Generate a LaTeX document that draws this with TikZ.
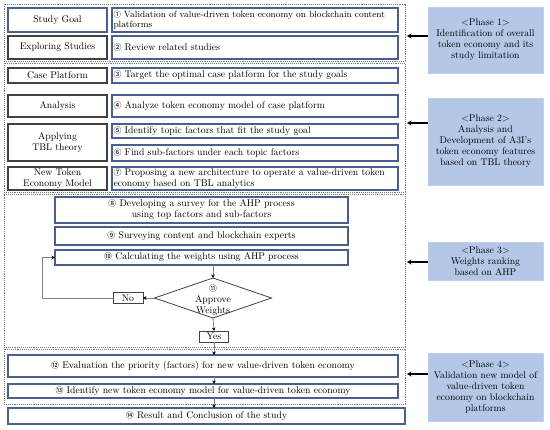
\documentclass[tikz,border=0pt]{standalone}
\usepackage{fontspec}
\usetikzlibrary{arrows.meta,shapes.geometric}
\newfontfamily\cfont{Noto Sans CJK SC}
\newcommand\cn[1]{{\cfont\scalebox{0.82}{#1}}}
\newcommand\nohyph{\hyphenpenalty=10000\relax\exhyphenpenalty=10000\relax}
\definecolor{tbd}{RGB}{75,95,140}
\definecolor{lbd}{RGB}{65,65,65}
\definecolor{phf}{RGB}{180,199,231}
\definecolor{grp}{RGB}{120,120,120}
\begin{document}
\begin{tikzpicture}[x=1pt,y=-1pt,
  every node/.style={font=\fontsize{9.7}{11}\selectfont, inner sep=0pt, outer sep=0pt},
  lbox/.style={draw=lbd, line width=1.1pt, minimum width=99pt, align=center},
  tbox/.style={draw=tbd, line width=1.1pt, minimum width=286pt, text width=283pt, inner xsep=1.5pt, align=left,
    font=\fontsize{9.7}{11}\selectfont\nohyph},
  cbox/.style={draw=tbd, line width=1.1pt, align=center},
  grpbox/.style={draw=grp, densely dotted, line width=0.9pt},
  phase/.style={fill=phf, draw=phf!85!white, minimum width=115pt, text width=110pt, align=center},
  parr/.style={line width=1.5pt, -{Stealth[length=4.5pt,width=5pt]}},
  farr/.style={draw=gray, line width=0.8pt, -{Stealth[length=3.5pt,width=3.5pt,black]}},
  smallbox/.style={draw=lbd, line width=0.9pt, align=center}]
\useasboundingbox (0,0) rectangle (550,430);

% groups
\node[grpbox, minimum width=401pt, minimum height=57pt] (g1) at (204.5,32.5) {};
\node[grpbox, minimum width=401pt, minimum height=129pt] (g2) at (204.5,127.5) {};
\node[grpbox, minimum width=401pt, minimum height=153pt] (g3) at (204.5,270.5) {};
\node[grpbox, minimum width=401pt, minimum height=55pt] (g4) at (204.5,376.5) {};

% phase 1
\node[lbox, draw=tbd, minimum height=24pt] (sg) at (57.5,20) {Study Goal};
\node[lbox, minimum height=23pt] (es) at (57.5,47.5) {Exploring Studies};
\node[tbox, minimum height=24pt, font=\fontsize{9.1}{10.5}\selectfont\nohyph] (t1) at (255,20) {\cn{①} Validation of value-driven token economy on blockchain content\\platforms};
\node[tbox, minimum height=23pt] (t2) at (255,47.5) {\cn{②} Review related studies};

% phase 2
\node[lbox, minimum height=15pt] (cp) at (57.5,75.5) {Case Platform};
\node[lbox, minimum height=22pt] (an) at (57.5,106) {Analysis};
\node[lbox, minimum height=37pt] (ap) at (57.5,142.5) {Applying\\TBL theory};
\node[lbox, minimum height=23pt] (nt) at (57.5,178.5) {New Token\\Economy Model};
\node[tbox, minimum height=15pt] (t3) at (255,75.5) {\cn{③} Target the optimal case platform for the study goals};
\node[tbox, minimum height=22pt] (t4) at (255,106) {\cn{④} Analyze token economy model of case platform};
\node[tbox, minimum height=14pt] (t5) at (255,131) {\cn{⑤} Identify topic factors that fit the study goal};
\node[tbox, minimum height=16pt] (t6) at (255,153) {\cn{⑥} Find sub-factors under each topic factors};
\node[tbox, minimum height=23pt] (t7) at (255,178.5) {\cn{⑦} Proposing a new architecture to operate a value-driven token\\economy based on TBL analytics};

% phase 3
\node[cbox, minimum width=293pt, minimum height=26pt] (t8) at (201.5,210) {\cn{⑧} Developing a survey for the AHP process\\using top factors and sub-factors};
\node[cbox, minimum width=293pt, minimum height=18pt] (t9) at (201.5,236) {\cn{⑨} Surveying content and blockchain experts};
\node[cbox, minimum width=293pt, minimum height=15pt] (t10) at (201.5,257.5) {\cn{⑩} Calculating the weights using AHP process};
\node[diamond, draw=lbd, line width=0.8pt, minimum width=117pt, minimum height=40pt] (d11) at (213,298) {};
\node[align=center] (d11t) at (213,300.5) {\cn{⑪}\\Approve\\Weights};
\node[smallbox, minimum width=30pt, minimum height=11pt] (no) at (128,298) {No};
\node[smallbox, minimum width=29pt, minimum height=11pt] (yes) at (214,336.5) {Yes};
\coordinate (fb) at (42,298);

% phase 4
\node[cbox, minimum width=390pt, minimum height=22pt] (t12) at (203,366) {\cn{⑫} Evaluation the priority (factors) for new value-driven token economy};
\node[cbox, minimum width=390pt, minimum height=14pt] (t13) at (203,391) {\cn{⑬} Identify new token economy model for value-driven token economy};
\node[cbox, minimum width=397pt, minimum height=16pt] (t14) at (206.5,416) {\cn{⑭} Result and Conclusion of the study};

% phase boxes
\node[phase, minimum height=66pt] (p1) at (485.5,40) {<Phase 1>\\Identification of overall\\token economy and its\\study limitation};
\node[phase, minimum height=87pt] (p2) at (485.5,141.5) {<Phase 2>\\Analysis and\\Development of A3I's\\token economy features\\based on TBL theory};
\node[phase, minimum height=38pt] (p3) at (485.5,261) {<Phase 3>\\Weights ranking\\based on AHP};
\node[phase, minimum height=68pt] (p4) at (485.5,387) {<Phase 4>\\Validation new model of\\value-driven token\\economy on blockchain\\platforms};

\coordinate (a1) at (0,36);
\coordinate (a2) at (0,123);
\coordinate (a3) at (0,262);
\coordinate (a4) at (0,374);
\draw[parr] (p1.west |- a1) -- ([xshift=2pt]g1.east |- a1);
\draw[parr] (p2.west |- a2) -- ([xshift=2pt]g2.east |- a2);
\draw[parr] (p3.west |- a3) -- ([xshift=2pt]g3.east |- a3);
\draw[parr] (p4.west |- a4) -- ([xshift=2pt]g4.east |- a4);

% flow
\draw[farr] (t10.south -| d11.north) -- (d11.north);
\draw[farr] (d11.west) -- (no.east);
\draw[farr] (no.west) -- (fb) |- (t10.west);
\draw[farr] (d11.south) -- (yes.north);
\draw[farr] (yes.south) -- (yes.south |- t12.north);
\draw[farr] (t12.south -| yes.south) -- (t13.north -| yes.south);
\draw[farr] (t13.south -| yes.south) -- (t14.north -| yes.south);
\end{tikzpicture}
\end{document}
